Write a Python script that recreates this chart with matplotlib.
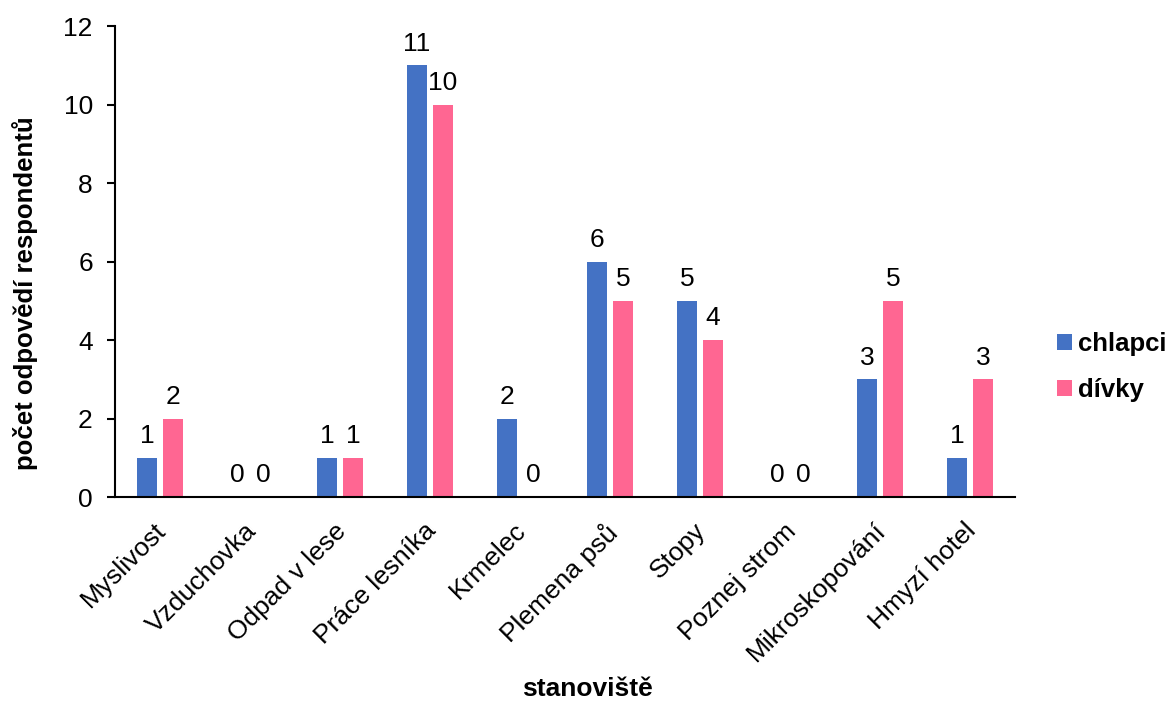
import matplotlib.pyplot as plt
import matplotlib.transforms as mtransforms
import numpy as np

plt.rcParams['font.family'] = ['Liberation Sans', 'DejaVu Sans']

stanoviste = ['Myslivost', 'Vzduchovka', 'Odpad v lese', 'Práce lesníka', 'Krmelec',
              'Plemena psů', 'Stopy', 'Poznej strom', 'Mikroskopování', 'Hmyzí hotel']
chlapci = [1, 0, 1, 11, 2, 6, 5, 0, 3, 1]
divky = [2, 0, 1, 10, 0, 5, 4, 0, 5, 3]

modra = '#4472C4'
ruzova = '#FF6692'

fig = plt.figure(figsize=(11.7, 7.04), dpi=100)
ax = fig.add_axes([0.0983, 0.294, 0.7692, 0.669])

x = np.arange(len(stanoviste))
w = 0.22
off = 0.145
b1 = ax.bar(x - off, chlapci, w, color=modra, label='chlapci')
b2 = ax.bar(x + off, divky, w, color=ruzova, label='dívky')

for bars, vals in ((b1, chlapci), (b2, divky)):
    for r, v in zip(bars, vals):
        ax.annotate(str(v), (r.get_x() + r.get_width() / 2, v),
                    xytext=(0, 7), textcoords='offset points',
                    ha='center', va='bottom', fontsize=19)

ax.set_xlim(-0.5, len(stanoviste) - 0.5)
ax.set_ylim(0, 12)
ax.set_yticks(range(0, 13, 2))
ax.set_xticks(x)
ax.set_xticklabels(stanoviste, rotation=45, ha='right', rotation_mode='anchor')
ax.tick_params(axis='x', length=0, pad=12, labelsize=19)
ax.tick_params(axis='y', length=6, width=1.5, pad=10, labelsize=19)

# nudge the slanted category names a little left and down
posun = mtransforms.ScaledTranslation(-0.06, -0.05, fig.dpi_scale_trans)
for lbl in ax.get_xticklabels():
    lbl.set_transform(lbl.get_transform() + posun)

for s in ('top', 'right'):
    ax.spines[s].set_visible(False)
for s in ('left', 'bottom'):
    ax.spines[s].set_linewidth(1.5)

ax.set_ylabel('počet odpovědí respondentů', fontsize=18.5, fontweight='bold')
ax.yaxis.set_label_coords(-0.086, 0.433)
fig.text(0.502, 0.004, 'stanoviště', ha='center', va='bottom', fontsize=19, fontweight='bold')

leg = ax.legend(loc='center left', bbox_to_anchor=(1.021, 0.276), frameon=False,
                prop={'weight': 'bold', 'size': 18.5},
                handlelength=0.6, handleheight=0.6, handletextpad=0.2, labelspacing=0.85)

fig.savefig('out.png', dpi=100)
